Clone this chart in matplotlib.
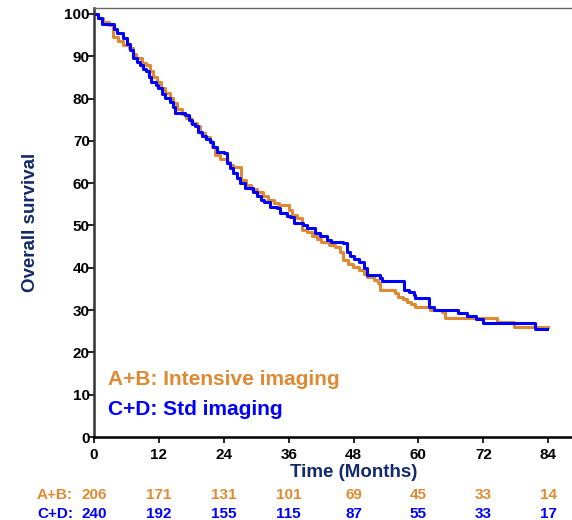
"""
Kaplan-Meier style overall survival plot, intensive vs standard imaging.
"""
import matplotlib
matplotlib.use("Agg")
import matplotlib.pyplot as plt
import matplotlib.transforms as mtransforms

plt.rcParams["font.family"] = ["Liberation Sans", "DejaVu Sans"]
plt.rcParams["font.weight"] = "bold"

# --------------------------- Data --------------------------- #
# A+B: intensive imaging (time in months, survival % from that time on)
ab_time = [0, 0.7, 1.7, 2.7, 3.5, 4.4, 5.3, 6.5, 7.3, 7.8, 8.8, 9.7, 10.3, 11.0,
           11.7, 12.4, 13.2, 14.0, 14.7, 15.4, 16.2, 17.0, 17.9, 19.0, 19.6,
           20.5, 21.4, 21.8, 22.4, 23.3, 24.6, 25.2, 25.8, 27.2, 28.1, 29.1,
           30.2, 31.2, 32.2, 33.2, 34.2, 36.0, 36.6, 37.5, 38.4, 39.4, 40.3,
           41.3, 42.0, 43.4, 44.6, 45.5, 46.1, 46.9, 47.9, 49.0, 50.0, 50.5,
           51.7, 52.6, 52.9, 55.7, 56.3, 57.1, 57.9, 58.7, 59.4, 62.2, 64.4,
           65.0, 74.6, 77.6, 83.9]
ab_surv = [100, 99.0, 98.0, 97.4, 94.6, 93.5, 92.7, 91.9, 90.5, 89.5, 88.5, 87.9,
           86.5, 85.2, 83.8, 82.6, 81.4, 80.2, 79.0, 77.5, 76.3, 75.3, 74.3,
           73.6, 71.8, 71.0, 70.0, 68.6, 66.7, 65.8, 65.1, 64.3, 63.9, 60.8,
           59.6, 58.6, 58.0, 57.0, 56.0, 55.3, 54.8, 53.7, 52.5, 51.7, 48.9,
           48.4, 47.6, 46.8, 46.0, 45.4, 45.0, 43.8, 41.8, 41.0, 40.2, 39.5,
           38.6, 37.9, 37.1, 36.3, 34.8, 34.0, 33.2, 32.6, 32.0, 31.4, 30.8,
           30.0, 29.6, 28.1, 27.1, 26.1, 26.1]

# C+D: standard imaging
cd_time = [0, 0.8, 1.4, 3.7, 4.2, 5.3, 6.1, 6.7, 7.3, 7.9, 8.5, 9.1, 9.7, 10.2,
           10.6, 11.4, 11.9, 12.5, 13.2, 14.1, 14.6, 15.0, 16.8, 17.5, 18.1,
           18.7, 19.3, 20.0, 20.7, 21.4, 22.0, 22.7, 24.0, 24.6, 25.2, 25.8,
           26.4, 27.0, 27.9, 29.4, 30.2, 30.9, 31.4, 32.6, 33.8, 34.4, 35.7,
           36.2, 36.9, 38.7, 39.4, 40.9, 41.8, 43.1, 43.9, 46.1, 46.7, 47.3,
           48.1, 49.0, 49.9, 50.5, 52.9, 53.2, 57.3, 58.3, 59.1, 59.4, 61.9,
           62.8, 67.4, 69.0, 70.6, 72.0, 81.6, 83.8]
cd_surv = [100, 99.0, 97.6, 96.5, 95.4, 94.3, 92.8, 91.5, 89.5, 88.7, 87.9, 87.1,
           86.4, 85.2, 84.0, 83.2, 82.4, 81.0, 80.2, 79.3, 78.0, 76.5, 76.1,
           75.0, 74.1, 73.4, 72.2, 71.2, 70.5, 69.8, 68.6, 67.4, 67.1, 64.7,
           63.5, 62.3, 61.2, 60.0, 58.8, 58.0, 57.0, 56.0, 55.6, 54.4, 54.1,
           52.9, 52.3, 52.1, 50.5, 50.1, 49.4, 48.2, 47.6, 46.6, 46.2, 45.8,
           43.8, 42.8, 42.0, 41.4, 39.9, 38.3, 37.5, 36.8, 34.8, 34.2,
           33.6, 32.8, 30.8, 30.0, 29.2, 28.6, 27.8, 27.0, 25.5, 25.5]

# numbers at risk
risk_times = [0, 12, 24, 36, 48, 60, 72, 84]
ab_risk = [206, 171, 131, 101, 69, 45, 33, 14]
cd_risk = [240, 192, 155, 115, 87, 55, 33, 17]

ORANGE = "#DF8A32"
BLUE = "#0000FF"
NAVY = "#12296C"

fig = plt.figure(figsize=(5.72, 5.2), dpi=100)
ax = fig.add_axes([0.1643, 0.1596, 0.8357, 0.825])

ax.step(ab_time, ab_surv, where="post", color=ORANGE, lw=2.2)
ax.step(cd_time, cd_surv, where="post", color=BLUE, lw=2.2)

ax.set_xlim(0, 88.4)
ax.set_ylim(0, 101.4)
ax.set_xticks(risk_times)
ax.set_yticks(range(0, 101, 10))
ax.tick_params(axis="both", labelsize=11, length=4, width=1.2, colors="black")
ax.tick_params(axis="x", pad=4)
ax.tick_params(axis="y", pad=-1)
for lab in ax.get_xticklabels() + ax.get_yticklabels():
    lab.set_fontweight("bold")

for side in ["left", "bottom"]:
    ax.spines[side].set_linewidth(1.8)
ax.spines["left"].set_color("#333333")
ax.spines["top"].set_color("#666666")
ax.spines["top"].set_linewidth(1.0)
ax.spines["right"].set_visible(False)

ax.set_ylabel("Overall survival", fontsize=13.5, fontweight="bold", color=NAVY)
ax.yaxis.set_label_coords(-0.114, 0.5)
ax.text(48, -0.082, "Time (Months)", transform=ax.get_xaxis_transform(),
        ha="center", va="center", fontsize=13.5, fontweight="bold", color=NAVY)

# legend as coloured text
ax.text(2.6, 13.5, "A+B: Intensive imaging", color=ORANGE, fontsize=15,
        fontweight="bold", va="center", ha="left")
ax.text(2.6, 6.4, "C+D: Std imaging", color=BLUE, fontsize=15,
        fontweight="bold", va="center", ha="left")

# risk table
trans = mtransforms.blended_transform_factory(ax.transData, ax.transAxes)
for y, label, counts, col in [(-0.136, "A+B:", ab_risk, ORANGE),
                              (-0.179, "C+D:", cd_risk, BLUE)]:
    ax.text(-3.9, y, label, transform=trans, ha="right", va="center",
            color=col, fontsize=11, fontweight="bold", clip_on=False)
    for t, n in zip(risk_times, counts):
        ax.text(t, y, str(n), transform=trans, ha="center", va="center",
                color=col, fontsize=11, fontweight="bold", clip_on=False)

fig.savefig("out.png", dpi=100)
